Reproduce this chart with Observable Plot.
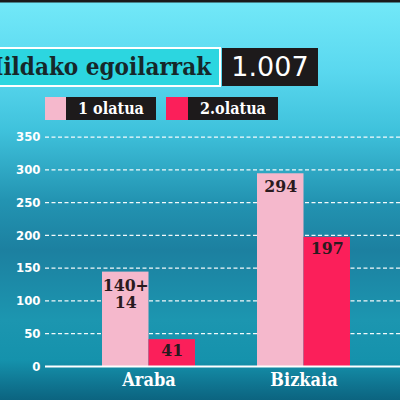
<!DOCTYPE html>
<html><head><meta charset="utf-8">
<script src="https://cdn.jsdelivr.net/npm/d3@7"></script>
<script src="https://cdn.jsdelivr.net/npm/@observablehq/plot@0.6"></script>
<style>
body{margin:0;background:#0e6a84}
#wrap{position:relative;width:400px;height:400px;overflow:hidden;
background:linear-gradient(180deg,#1a1a1a 0px,#1a1a1a 2px,#72e8f8 3px,#5ad8ef 70px,#3fc2dc 130px,#2394b2 200px,#1c80a0 250px,#1c96b0 320px,#1592ac 360px,#0f7490 385px,#0c6480 400px)}
.abs{position:absolute;box-sizing:border-box}
#title{left:-19px;top:47px;width:240px;height:40px;background:#2cd6e0;border:2px solid #fff;
font:bold 24px "DejaVu Serif Condensed","DejaVu Serif";color:#16282a;line-height:35px;padding-left:0px;white-space:nowrap}
#total{left:222px;top:48px;width:96px;height:38px;background:#1d1a1b;color:#fff;font:27px "DejaVu Sans";line-height:38px;text-align:center}
.sw{top:97px;height:23px}
.lg{top:97px;height:23px;background:#1d1a1b;color:#fff;font:bold 16px "DejaVu Serif Condensed","DejaVu Serif";line-height:23px;text-align:center;white-space:nowrap}
#plot{position:absolute;left:0;top:130px}
</style></head>
<body><div id="wrap">
<div id="title" class="abs"></div>
<div id="total" class="abs"></div>
<div id="sw1" class="abs sw"></div><div id="lg1" class="abs lg"></div>
<div id="sw2" class="abs sw"></div><div id="lg2" class="abs lg"></div>
<div id="plot"></div>
</div>
<script>
const titleText = "Hildako egoilarrak";
const totalText = "1.007";
const seriesNames = ["1 olatua", "2.olatua"];
const seriesColors = ["#f5b8cc", "#fb1f5a"];
const regions = ["Araba", "Bizkaia"];
const wave1 = [144, 294];
const wave1Labels = ["140+\n14", "294"];
const wave2 = [41, 197];
const wave2Labels = ["41", "197"];
const yTicks = [0, 50, 100, 150, 200, 250, 300, 350];

document.getElementById("title").textContent = titleText;
document.getElementById("total").textContent = totalText;
const sw1 = document.getElementById("sw1"), sw2 = document.getElementById("sw2");
const lg1 = document.getElementById("lg1"), lg2 = document.getElementById("lg2");
sw1.style.cssText = `left:45px;width:21px;background:${seriesColors[0]}`;
lg1.style.cssText = `left:66px;width:90px`;
lg1.textContent = seriesNames[0];
sw2.style.cssText = `left:166px;width:22px;background:${seriesColors[1]}`;
lg2.style.cssText = `left:188px;width:90px`;
lg2.textContent = seriesNames[1];

const d1 = regions.map((r, i) => ({region: r, value: wave1[i], label: wave1Labels[i]}));
const d2 = regions.map((r, i) => ({region: r, value: wave2[i], label: wave2Labels[i]}));
const half = 46.5;
const labelFont = "DejaVu Serif Condensed, DejaVu Serif";

const chart = Plot.plot({
  width: 400, height: 270,
  marginLeft: 45, marginRight: 0, marginTop: 0, marginBottom: 34,
  style: {background: "transparent", color: "white", overflow: "visible"},
  x: {domain: regions, paddingInner: 0.4, paddingOuter: 0.345, align: 0.533, label: null},
  y: {domain: [0, 360], label: null, line: true},
  marks: [
    Plot.gridY(yTicks.slice(1), {stroke: "white", strokeOpacity: 0.95, strokeDasharray: "4,2.5", strokeWidth: 1.2}),
    Plot.barY(d1, {x: "region", y: "value", fill: seriesColors[0], insetRight: half}),
    Plot.barY(d2, {x: "region", y: "value", fill: seriesColors[1], insetLeft: half}),
    Plot.text(d1, {x: "region", y: "value", text: "label", dx: -half / 2, dy: 6, lineAnchor: "top",
      fill: "#2a1a1e", fontSize: 17.5, fontFamily: labelFont, fontWeight: "bold", lineHeight: 1.0}),
    Plot.text(d2, {x: "region", y: "value", text: "label", dx: half / 2, dy: 4, lineAnchor: "top",
      fill: "#2a1a1e", fontSize: 17.5, fontFamily: labelFont, fontWeight: "bold"}),
    Plot.ruleY([0], {stroke: "white", strokeWidth: 2}),
    Plot.axisY(yTicks, {tickSize: 0, tickPadding: 5, fill: "white", fontSize: 13, fontWeight: "bold",
      fontFamily: "DejaVu Sans Condensed", label: null}),
    Plot.axisX({tickSize: 0, tickPadding: 7, fill: "white", fontSize: 18, fontWeight: "bold",
      fontFamily: labelFont, label: null})
  ]
});
document.getElementById("plot").appendChild(chart);
</script>
</body></html>
